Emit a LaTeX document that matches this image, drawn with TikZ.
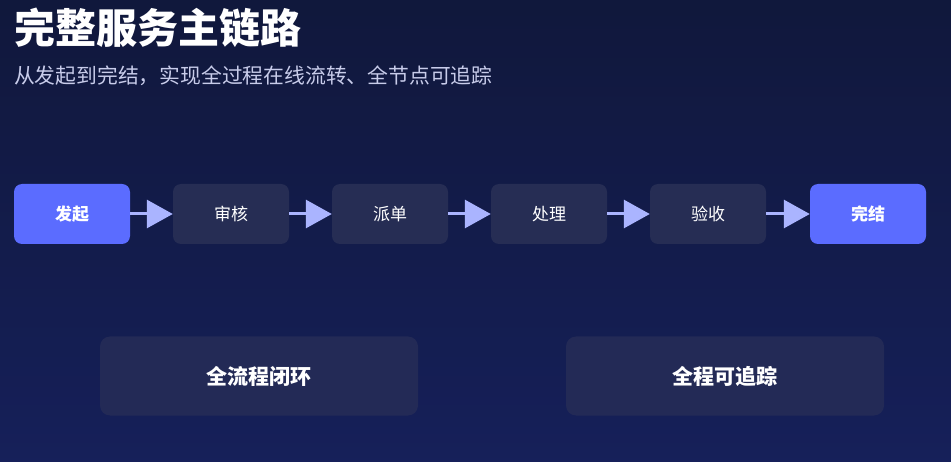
\documentclass[tikz,border=0pt]{standalone}
\usepackage{fontspec}
\newfontfamily\cjk{Noto Sans CJK SC}
\usetikzlibrary{arrows.meta}
\definecolor{bgA}{HTML}{0E142C}
\definecolor{bgB}{HTML}{16205A}
\definecolor{accent}{HTML}{5B6CFF}
\definecolor{stepfill}{HTML}{262D54}
\definecolor{bigfill}{HTML}{232A56}
\definecolor{arrowc}{HTML}{AAB4FF}
\definecolor{subc}{HTML}{C8CCEA}
\begin{document}
\begin{tikzpicture}[x=1pt,y=-1pt,
  stepbox/.style={rounded corners=8pt,fill=stepfill,minimum width=116pt,minimum height=60pt,inner sep=0pt,text=white,font=\cjk\fontsize{17}{20}\selectfont},
  endbox/.style={stepbox,fill=accent,font=\cjk\bfseries\fontsize{17}{20}\selectfont},
  bigbox/.style={rounded corners=10pt,fill=bigfill,minimum width=318pt,minimum height=79pt,inner sep=0pt,text=white,font=\cjk\bfseries\fontsize{21}{24}\selectfont},
  flow/.style={draw=arrowc,line width=3pt,-{Triangle[length=26pt,width=28pt]}}]
\shade[left color=bgA,right color=bgB,shading angle=0] (0,0) rectangle (951,462);
\fill[bgB,opacity=0.35] (0,0) rectangle (951,462);
\useasboundingbox (0,0) rectangle (951,462);
\node[anchor=west,text=white,font=\cjk\bfseries\fontsize{41}{44}\selectfont,inner sep=0pt] (title) at (14,28) {完整服务主链路};
\node[anchor=west,text=subc,font=\cjk\fontsize{20.8}{24}\selectfont,inner sep=0pt] (sub) at (14,76) {从发起到完结，实现全过程在线流转、全节点可追踪};
\node[endbox] (s1) at (72,214) {发起};
\node[stepbox] (s2) at (231,214) {审核};
\node[stepbox] (s3) at (390,214) {派单};
\node[stepbox] (s4) at (549,214) {处理};
\node[stepbox] (s5) at (708,214) {验收};
\node[endbox] (s6) at (868,214) {完结};
\foreach \a/\b in {s1/s2,s2/s3,s3/s4,s4/s5,s5/s6} \draw[flow] (\a.east) -- (\b.west);
\node[bigbox] (b1) at (259,376) {全流程闭环};
\node[bigbox] (b2) at (725,376) {全程可追踪};
\end{tikzpicture}
\end{document}
